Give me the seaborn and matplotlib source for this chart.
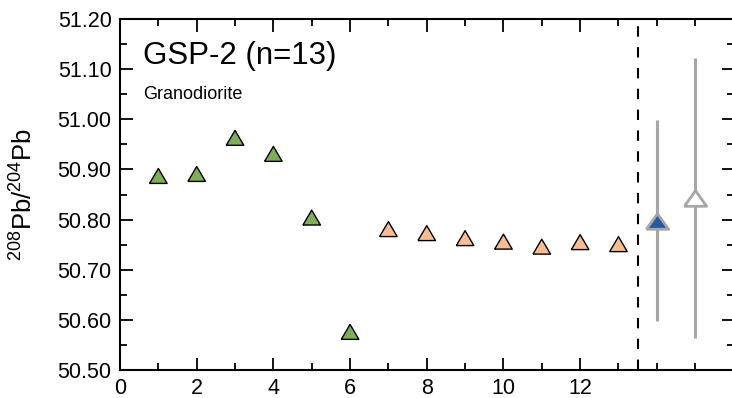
import matplotlib
matplotlib.use("Agg")
import matplotlib.pyplot as plt
from matplotlib.ticker import MultipleLocator, FormatStrFormatter
import seaborn as sns
import pandas as pd

# ---- data ----
analysis = [1, 2, 3, 4, 5, 6, 7, 8, 9, 10, 11, 12, 13]
pb208_204 = [50.887, 50.891, 50.963, 50.931, 50.804, 50.576,
             50.781, 50.773, 50.763, 50.756, 50.746, 50.755, 50.751]
group = ["A"] * 6 + ["B"] * 7
mean_x = [14, 15]
mean_y = [50.798, 50.843]
mean_err = [0.200, 0.280]
x_ticks = [0, 2, 4, 6, 8, 10, 12]
title = "GSP-2 (n=13)"
subtitle = "Granodiorite"

df = pd.DataFrame({"analysis": analysis, "ratio": pb208_204, "group": group})

sns.set_theme(style="ticks")
plt.rcParams["font.family"] = ["Liberation Sans", "DejaVu Sans"]
plt.rcParams["mathtext.fontset"] = "custom"
plt.rcParams["mathtext.rm"] = "Liberation Sans"
plt.rcParams["mathtext.it"] = "Liberation Sans"
plt.rcParams["text.color"] = "black"
plt.rcParams["axes.labelcolor"] = "black"

fig = plt.figure(figsize=(7.32, 3.98), dpi=100)
ax = fig.add_axes([120 / 732, 1 - 370 / 398, (733.5 - 120) / 732, (370 - 19) / 398])

tri = [(-1, -0.85), (1, -0.85), (0, 0.85), (-1, -0.85)]
tri_flat = [(-1, -0.7), (1, -0.7), (0, 0.7), (-1, -0.7)]

sns.scatterplot(data=df, x="analysis", y="ratio", hue="group",
                palette={"A": "#80ad58", "B": "#f8bd93"},
                marker=tri, s=160, edgecolor="black", linewidth=1.0,
                legend=False, ax=ax, zorder=3)

# dashed separator
ax.axvline(13.5, color="black", lw=1.5, ls=(0, (5, 5)), zorder=2)

# mean values with uncertainties
ax.errorbar(mean_x[0], mean_y[0], yerr=mean_err[0], fmt="none",
            ecolor="#a6a6a6", elinewidth=2.2, capsize=0, zorder=2)
ax.plot(mean_x[0], mean_y[0], marker=tri_flat, ms=16, mfc="#2a57a0",
        mec="#a6a6a6", mew=2.0, zorder=3, ls="none")
ax.errorbar(mean_x[1], mean_y[1], yerr=mean_err[1], fmt="none",
            ecolor="#a6a6a6", elinewidth=2.2, capsize=0, zorder=2)
ax.plot(mean_x[1], mean_y[1], marker=tri_flat, ms=16, mfc="white",
        mec="#a6a6a6", mew=2.0, zorder=3, ls="none")

ax.set_xlim(0, 16)
ax.set_ylim(50.50, 51.20)
ax.set_xticks(x_ticks)
ax.xaxis.set_minor_locator(MultipleLocator(1))
ax.yaxis.set_major_locator(MultipleLocator(0.1))
ax.yaxis.set_minor_locator(MultipleLocator(0.05))
ax.yaxis.set_major_formatter(FormatStrFormatter("%.2f"))
ax.tick_params(which="both", direction="in", top=True, right=True,
               width=1.3, colors="black", labelsize=15.5)
ax.tick_params(which="major", length=9)
ax.tick_params(which="minor", length=5)
ax.tick_params(axis="x", pad=6)
ax.tick_params(axis="y", pad=6)
for sp in ax.spines.values():
    sp.set_linewidth(1.5)
    sp.set_color("black")

ax.set_xlabel("")
ax.set_ylabel(r"$^{208}$Pb/$^{204}$Pb", fontsize=18.5, labelpad=14)

ax.text(0.037, 0.895, title, transform=ax.transAxes, fontsize=22.5,
        ha="left", va="center", color="black")
ax.text(0.037, 0.785, subtitle, transform=ax.transAxes, fontsize=13,
        ha="left", va="center", color="black")

fig.savefig("out.png", dpi=100)
